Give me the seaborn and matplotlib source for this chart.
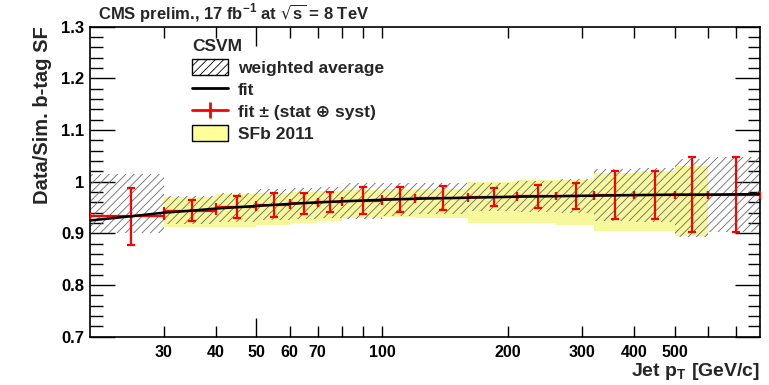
import numpy as np
import pandas as pd
import matplotlib
matplotlib.use("Agg")
import matplotlib.pyplot as plt
import seaborn as sns
from matplotlib.patches import Patch
from matplotlib.lines import Line2D
from matplotlib.ticker import FixedLocator, NullFormatter, FixedFormatter, MultipleLocator

# ---------------- data ----------------
bin_lo = [20, 30, 40, 50, 60, 70, 80, 100, 120, 160, 210, 260, 320, 400, 500, 600]
bin_hi = [30, 40, 50, 60, 70, 80, 100, 120, 160, 210, 260, 320, 400, 500, 600, 800]

# weighted average (hatched)
wavg_val = [0.958, 0.945, 0.950, 0.955, 0.958, 0.960, 0.962, 0.966, 0.968, 0.970, 0.972, 0.972, 0.974, 0.974, 0.968, 0.975]
wavg_err = [0.057, 0.027, 0.028, 0.030, 0.030, 0.030, 0.035, 0.032, 0.030, 0.027, 0.030, 0.033, 0.050, 0.052, 0.075, 0.073]

# fit +- (stat (+) syst) at bin centres (red)
fit_center = [25, 35, 45, 55, 65, 75, 90, 110, 140, 185, 235, 290, 360, 450, 550, 700]
fit_center_sf = [0.933, 0.944, 0.951, 0.955, 0.958, 0.961, 0.963, 0.966, 0.968, 0.970, 0.972, 0.973, 0.974, 0.974, 0.975, 0.975]
fit_err = [0.055, 0.021, 0.021, 0.023, 0.021, 0.020, 0.026, 0.024, 0.023, 0.018, 0.022, 0.025, 0.047, 0.047, 0.072, 0.072]

# SFb 2011 (yellow)
sf11_lo = [30, 40, 50, 60, 70, 80, 100, 120, 160, 210, 260, 320, 400, 500]
sf11_hi = [40, 50, 60, 70, 80, 100, 120, 160, 210, 260, 320, 400, 500, 600]
sf11_top = [0.971, 0.976, 0.978, 0.981, 0.982, 0.984, 0.986, 0.986, 0.999, 1.003, 1.003, 1.016, 1.021, 1.030]
sf11_bot = [0.913, 0.913, 0.916, 0.920, 0.923, 0.929, 0.932, 0.930, 0.920, 0.920, 0.916, 0.905, 0.905, 0.895]

# fit curve
fit_pt = [20, 25, 30, 35, 40, 50, 60, 70, 80, 100, 120, 160, 210, 260, 320, 400, 500, 600, 800]
fit_sf = [0.925, 0.933, 0.940, 0.944, 0.948, 0.953, 0.957, 0.960, 0.962, 0.965, 0.967, 0.969, 0.971, 0.972, 0.973, 0.974, 0.975, 0.975, 0.976]

# ---------------- style ----------------
sns.set_theme(style="ticks")
plt.rcParams['font.family'] = ['Liberation Sans', 'DejaVu Sans']
plt.rcParams['hatch.linewidth'] = 0.6
plt.rcParams['hatch.color'] = '#6a6a6a'

fig = plt.figure(figsize=(7.69, 3.85), dpi=100)
ax = fig.add_axes([90/769, 1-336.7/385, 670/769, 310/385])

lo = np.array(bin_lo, float); hi = np.array(bin_hi, float)
# yellow SFb 2011
s_lo = np.array(sf11_lo, float); s_hi = np.array(sf11_hi, float)
ax.bar(s_lo, np.array(sf11_top) - np.array(sf11_bot), width=s_hi - s_lo,
       bottom=sf11_bot, align='edge', color='#f7f79c', linewidth=0, zorder=1)
# hatched weighted average
wv = np.array(wavg_val); we = np.array(wavg_err)
ax.bar(lo, 2*we, width=hi - lo, bottom=wv - we, align='edge', facecolor='none',
       edgecolor='#6a6a6a', hatch='////', linewidth=0, zorder=2)

# red error bars: x spans the bin, y at fit
fc = np.array(fit_center, float)
ax.errorbar(fc, fit_center_sf, yerr=fit_err, xerr=[fc - lo, hi - fc], fmt='none',
            ecolor='red', elinewidth=1.6, capsize=3, capthick=1.6, zorder=3)

# fit line
df_fit = pd.DataFrame({'pt': fit_pt, 'sf': fit_sf})
sns.lineplot(data=df_fit, x='pt', y='sf', color='black', linewidth=1.8, ax=ax, zorder=4)

ax.set_xscale('log')
ax.set_xlim(20, 800)
ax.set_ylim(0.7, 1.3)

# ticks
ax.xaxis.set_major_locator(FixedLocator([30, 40, 50, 60, 70, 100, 200, 300, 400, 500]))
ax.xaxis.set_major_formatter(FixedFormatter(['30', '40', '50', '60', '70', '100', '200', '300', '400', '500']))
ax.xaxis.set_minor_locator(FixedLocator([80, 90, 600, 700]))
ax.xaxis.set_minor_formatter(NullFormatter())
ax.yaxis.set_major_locator(MultipleLocator(0.1))
ax.yaxis.set_minor_locator(MultipleLocator(0.02))
ax.yaxis.set_major_formatter(matplotlib.ticker.FuncFormatter(lambda v, p: f"{v:g}"))
ax.tick_params(axis='both', which='both', direction='in', top=True, right=True, colors='black')
ax.tick_params(axis='x', which='major', length=8, width=1, pad=6, labelsize=11.5)
ax.tick_params(axis='x', which='minor', length=8, width=1)
ax.tick_params(axis='y', which='major', length=18, width=1, pad=4, labelsize=12)
ax.tick_params(axis='y', which='minor', length=9, width=1)
for t in ax.xaxis.get_major_ticks():
    if abs(t.get_loc() - 100) < 1e-6:
        t.tick1line.set_markersize(14)
        t.tick2line.set_markersize(14)
for lab in ax.get_xticklabels() + ax.get_yticklabels():
    lab.set_fontweight('bold')
for s in ax.spines.values():
    s.set_linewidth(1.2)
    s.set_color('black')

ax.set_xlabel('Jet p$_{\\mathregular{T}}$ [GeV/c]', fontsize=14, fontweight='bold', loc='right', labelpad=1)
ax.set_ylabel('Data/Sim. b-tag SF', fontsize=14.5, fontweight='bold', loc='top', labelpad=7)

fig.text(98/769, 1-13/385, 'CMS prelim., 17 fb$^{\\mathregular{-1}}$ at $\\mathregular{\\sqrt{s}}$ = 8 TeV',
         fontsize=12, fontweight='bold', va='center', ha='left')

handles = [
    Patch(facecolor='white', edgecolor='black', hatch='////', linewidth=1, label='weighted average'),
    Line2D([], [], color='black', lw=2, label='fit'),
    Line2D([], [], color='red', lw=2, marker='|', markersize=11, mew=2, label='fit ± (stat ⊕ syst)'),
    Patch(facecolor='#ffff99', edgecolor='black', linewidth=1, label='SFb 2011'),
]
leg = ax.legend(handles=handles, title='CSVM', loc='upper left', bbox_to_anchor=(0.152, 0.96),
                frameon=False, prop={'weight': 'bold', 'size': 12.5}, title_fontproperties={'weight': 'bold', 'size': 12.5},
                handlelength=2.1, handleheight=1.0, handletextpad=0.55, labelspacing=0.3, borderaxespad=0, borderpad=0)
leg._legend_box.align = 'left'

fig.savefig('out.png', dpi=100)
